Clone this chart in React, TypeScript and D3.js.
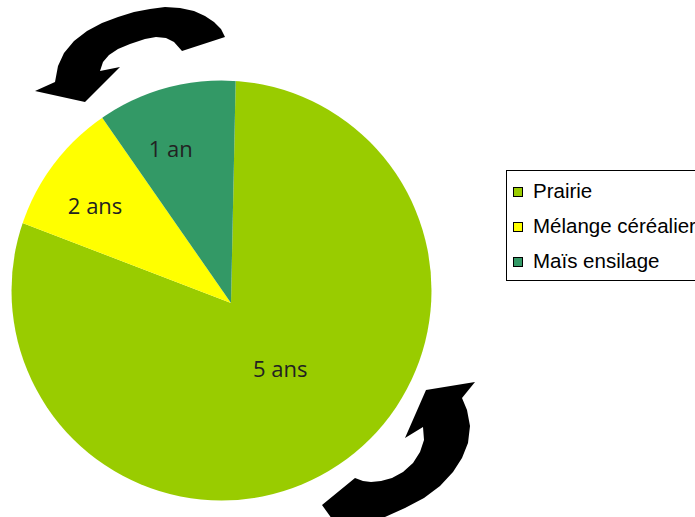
import React, { useRef, useEffect } from 'react';
import * as d3 from 'd3';

// Data
const categories = ['Prairie', 'Mélange céréalier', 'Maïs ensilage'];
const values = [80.5, 9.5, 10];
const colors = ['#99cc00', '#ffff00', '#339966'];
const sliceLabels = ['5 ans', '2 ans', '1 an'];

// decorative rotation arrows (outline points)
const arrowTop: [number, number][] = [
  [225, 37], [221, 29], [214, 22], [205, 16], [194, 11], [180, 8], [165, 7], [150, 9],
  [134, 12], [118, 17], [102, 23], [87, 31], [74, 41], [64, 53], [58, 66], [55, 82],
  [35, 91], [85, 102], [120, 67], [100, 71], [103, 62], [109, 55], [118, 49], [130, 44],
  [145, 39], [156, 37], [166, 38], [174, 42], [182, 51]
];
const arrowBottom: [number, number][] = [
  [322, 505], [355, 478], [363, 481], [371, 482], [381, 481], [392, 478], [403, 472],
  [413, 463], [420, 452], [424, 440], [423, 427], [405, 438], [426, 390], [475, 382],
  [462, 398], [467, 410], [470, 426], [468, 443], [462, 458], [453, 472], [440, 486],
  [424, 498], [405, 508], [385, 517], [365, 526], [340, 530]
];

const W = 695;
const H = 517;

const App: React.FC = () => {
  const ref = useRef<SVGSVGElement | null>(null);

  useEffect(() => {
    if (!ref.current) return;
    const svg = d3.select(ref.current);
    svg.selectAll('*').remove();

    // disc outline and (slightly offset) slice apex, as in the original
    const cx = 221.5;
    const cy = 290.5;
    const radius = 210;
    const ax = 231;
    const ay = 303;

    svg.append('defs')
      .append('clipPath')
      .attr('id', 'disc')
      .append('circle')
      .attr('cx', cx)
      .attr('cy', cy)
      .attr('r', radius);

    const start = (1.2 * Math.PI) / 180;
    const pie = d3.pie<number>()
      .sort(null)
      .value(d => d)
      .startAngle(start)
      .endAngle(start + 2 * Math.PI);

    const arc = d3.arc<d3.PieArcDatum<number>>()
      .innerRadius(0)
      .outerRadius(radius + 40);

    const arcs = pie(values);

    const g = svg.append('g')
      .attr('clip-path', 'url(#disc)')
      .append('g')
      .attr('transform', `translate(${ax},${ay})`);

    g.selectAll('path.slice')
      .data(arcs)
      .join('path')
      .attr('class', 'slice')
      .attr('d', arc)
      .attr('fill', (_, i) => colors[i]);

    // slice text labels (free text boxes in the original)
    const labelPos = [
      { r: 0.45, dx: -3.5, dy: -12 },
      { r: 0.78, dx: -7, dy: 4 },
      { r: 0.72, dx: -16.5, dy: -9 }
    ];
    svg.append('g')
      .attr('transform', `translate(${ax},${ay})`)
      .selectAll('text.lbl')
      .data(arcs)
      .join('text')
      .attr('class', 'lbl')
      .attr('transform', (d, i) => {
        const rr = radius * labelPos[i].r;
        const [x, y] = d3.arc<d3.PieArcDatum<number>>().innerRadius(rr).outerRadius(rr).centroid(d);
        return `translate(${x + labelPos[i].dx},${y + labelPos[i].dy})`;
      })
      .attr('text-anchor', 'middle')
      .attr('dy', '0.35em')
      .attr('font-family', '"Open Sans", "Noto Sans", sans-serif')
      .attr('font-size', 22)
      .attr('fill', '#222')
      .text((_, i) => sliceLabels[i]);

    // arrows
    const line = d3.line().curve(d3.curveLinearClosed);
    svg.append('path').attr('d', line(arrowTop)).attr('fill', '#000');
    svg.append('path').attr('d', line(arrowBottom)).attr('fill', '#000');

    // legend
    const legend = svg.append('g').attr('transform', 'translate(506,170)');
    legend.append('rect')
      .attr('x', 0.5)
      .attr('y', 0.5)
      .attr('width', 240)
      .attr('height', 110)
      .attr('fill', '#fff')
      .attr('stroke', '#000');

    const item = legend.selectAll('g.item')
      .data(categories)
      .join('g')
      .attr('class', 'item')
      .attr('transform', (_, i) => `translate(0,${17 + i * 35})`);

    item.append('rect')
      .attr('x', 7.5)
      .attr('y', 0.5)
      .attr('width', 9)
      .attr('height', 9)
      .attr('fill', (_, i) => colors[i])
      .attr('stroke', '#000');

    item.append('text')
      .attr('x', 27)
      .attr('y', 11)
      .attr('font-family', '"Liberation Sans", Arial, sans-serif')
      .attr('font-size', 20.5)
      .attr('fill', '#000')
      .text(d => d);
  }, []);

  return (
    <svg
      ref={ref}
      width={W}
      height={H}
      style={{ position: 'absolute', top: 0, left: 0, background: '#fff' }}
    />
  );
};

export default App;
